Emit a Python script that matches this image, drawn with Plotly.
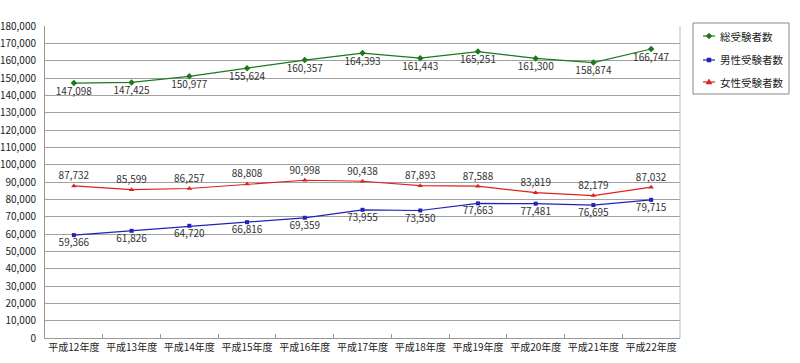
import plotly.graph_objects as go

categories = ["平成12年度", "平成13年度", "平成14年度", "平成15年度", "平成16年度", "平成17年度",
              "平成18年度", "平成19年度", "平成20年度", "平成21年度", "平成22年度"]
total = [147098, 147425, 150977, 155624, 160357, 164393, 161443, 165251, 161300, 158874, 166747]
male = [59366, 61826, 64720, 66816, 69359, 73955, 73550, 77663, 77481, 76695, 79715]
female = [87732, 85599, 86257, 88808, 90998, 90438, 87893, 87588, 83819, 82179, 87032]
names = ["総受験者数", "男性受験者数", "女性受験者数"]
colors = ["#1a7a1a", "#2222bb", "#dd2222"]

FONT = "Noto Sans CJK JP"
W, H = 800, 363
L, R, T, B = 45, 120, 26, 25
PW, PH = W - L - R, H - T - B

def px(x):
    return (x - L) / PW

def py(y):
    return (H - B - y) / PH

def fmt(v):
    return [f"{x:,}" for x in v]

tf = dict(size=10, color="#333333", family=FONT)
fig = go.Figure()
fig.add_trace(go.Scatter(x=categories, y=total, name=names[0], mode="lines+markers+text",
                         line=dict(color=colors[0], width=1.2),
                         marker=dict(symbol="diamond", size=5, color=colors[0]),
                         text=fmt(total), textposition="bottom center", textfont=tf))
fig.add_trace(go.Scatter(x=categories, y=male, name=names[1], mode="lines+markers+text",
                         line=dict(color=colors[1], width=1.2),
                         marker=dict(symbol="square", size=4, color=colors[1]),
                         text=fmt(male), textposition="bottom center", textfont=tf))
fig.add_trace(go.Scatter(x=categories, y=female, name=names[2], mode="lines+markers+text",
                         line=dict(color=colors[2], width=1.2),
                         marker=dict(symbol="triangle-up", size=5, color=colors[2]),
                         text=fmt(female), textposition="top center", textfont=tf))

fig.update_layout(
    width=W, height=H,
    margin=dict(l=L, r=R, t=T, b=B, autoexpand=False),
    paper_bgcolor="white", plot_bgcolor="white",
    font=dict(family=FONT, size=10, color="#222222"),
    showlegend=False,
    xaxis=dict(type="category", range=[-0.5, 10.5], tickson="boundaries",
               ticks="inside", ticklen=4, tickcolor="#999999", tickangle=0,
               showline=True, linecolor="#999999", linewidth=1,
               showgrid=False, automargin=False,
               tickfont=dict(size=10, family=FONT)),
    yaxis=dict(range=[0, 180000], dtick=10000, tickformat=",d",
               showline=True, linecolor="#999999", linewidth=1,
               gridcolor="#a0a0a0", gridwidth=1.3, automargin=False,
               ticks="", ticklabelstandoff=6,
               tickfont=dict(size=10, family=FONT), zeroline=False),
)
# right border of plot area
fig.add_shape(type="line", xref="paper", yref="paper", x0=1, x1=1, y0=0, y1=1,
              line=dict(color="#bbbbbb", width=1))

# legend box (drawn manually to match the reference's compact layout)
fig.add_shape(type="rect", xref="paper", yref="paper",
              x0=px(693), x1=px(789), y0=py(94), y1=py(23),
              line=dict(color="#888888", width=1), fillcolor="white", layer="above")
rows = [36, 60, 82]
for i, (nm, c, yy) in enumerate(zip(names, colors, rows)):
    fig.add_shape(type="line", xref="paper", yref="paper", x0=px(703), x1=px(715),
                  y0=py(yy), y1=py(yy), line=dict(color=c, width=1.2), layer="above")
    cx = 709
    if i == 0:
        path = f"M {px(cx)} {py(yy-3)} L {px(cx+3)} {py(yy)} L {px(cx)} {py(yy+3)} L {px(cx-3)} {py(yy)} Z"
    elif i == 1:
        path = f"M {px(cx-2)} {py(yy-2)} L {px(cx+2)} {py(yy-2)} L {px(cx+2)} {py(yy+2)} L {px(cx-2)} {py(yy+2)} Z"
    else:
        path = f"M {px(cx)} {py(yy-3)} L {px(cx+3)} {py(yy+2)} L {px(cx-3)} {py(yy+2)} Z"
    fig.add_shape(type="path", xref="paper", yref="paper", path=path,
                  fillcolor=c, line=dict(color=c, width=0.5), layer="above")
    fig.add_annotation(xref="paper", yref="paper", x=px(718), y=py(yy),
                       xanchor="left", yanchor="middle", text=nm, showarrow=False,
                       font=dict(size=10.5, color="#222222", family=FONT))

fig.write_html("out.html", config={"displayModeBar": False},
               post_script="document.body.style.margin='0';")
